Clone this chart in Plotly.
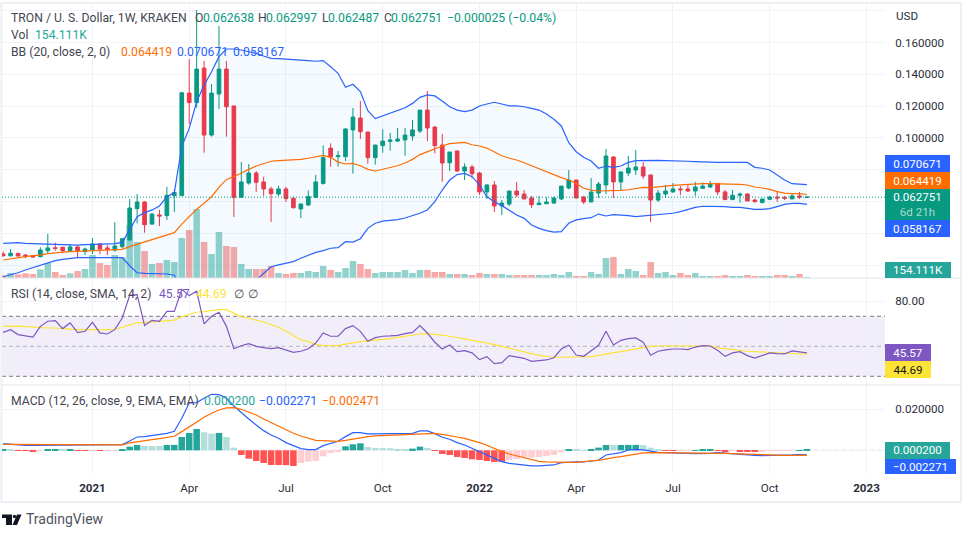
import pandas as pd
import plotly.graph_objects as go

# ---- values (prices in thousandths of a USD) ----
open_m = [27.0,25.9,27.4,26.3,25.9,25.3,29.1,30.9,31.2,29.1,31.4,28.5,29.5,33.3,30.8,29.5,31.6,35.8,55.5,59.7,45.8,51.5,51.1,63.7,
63.7,128.2,122.2,143.9,101.8,127.6,143.3,120.1,62.6,71.6,77.9,72.3,67.9,64.7,67.9,62.0,55.3,57.8,62.6,
71.4,93.6,88.2,88.2,105.0,112.5,103.7,87.6,95.1,97.8,98.0,98.7,101.2,104.3,117.5,106.8,95.5,84.4,91.8,79.2,81.7,77.9,66.0,70.4,57.2,58.4,66.6,64.7,62.2,58.0,58.6,59.0,61.6,68.5,73.5,62.8,59.7,65.3,70.4,88.0,72.3,77.9,79.8,
81.7,76.7,60.9,64.7,66.0,67.9,67.9,66.6,68.3,69.1,71.4,66.0,61.2,63.9,64.7,60.9,59.3,61.4,62.8,62.6,61.6,63.5,62.638]
high_m = [28.5,30.1,27.6,27.0,26.3,31.2,39.6,34.1,31.6,33.3,32.0,31.0,37.0,33.7,32.6,46.9,37.0,61.6,64.7,60.1,52.6,54.7,69.3,67.7,
128.9,149.6,180.4,148.4,133.9,170.4,148.4,120.1,84.8,83.6,79.2,75.6,69.3,70.0,69.3,63.0,58.8,67.0,76.7,
95.3,96.6,91.8,106.2,118.8,123.2,103.7,95.7,105.4,103.1,106.2,106.2,111.3,117.5,129.5,107.5,102.5,91.1,91.8,84.0,83.0,78.6,71.0,72.9,60.9,66.6,72.3,67.2,63.5,63.5,62.6,63.0,69.7,79.8,73.5,63.5,74.8,72.3,93.0,88.6,78.6,88.6,92.4,
84.8,76.7,67.2,70.4,71.6,69.7,71.0,72.3,72.1,72.9,71.4,67.2,67.2,65.6,65.3,61.8,61.6,63.5,66.4,63.5,65.3,66.0,62.997]
low_m = [25.3,25.3,25.5,24.3,24.7,24.9,27.4,29.1,27.4,28.5,24.3,26.3,27.0,27.0,26.3,28.5,30.5,35.4,46.3,40.4,45.2,44.6,48.4,53.4,
63.5,108.7,119.0,90.7,100.8,118.2,100.8,50.3,62.6,70.6,66.0,63.5,47.1,63.5,59.7,55.5,49.6,57.2,62.2,
70.6,81.9,81.9,85.5,77.5,99.3,83.8,83.2,90.7,92.0,97.4,88.8,98.3,103.1,98.0,90.3,72.5,79.2,78.6,73.5,74.6,64.1,61.6,53.4,51.5,57.2,62.8,61.6,55.9,57.8,58.4,58.8,60.9,67.7,62.0,58.4,59.7,62.2,64.7,62.2,66.8,76.0,76.7,
74.2,47.1,59.7,62.2,65.6,64.1,66.0,63.5,67.9,68.5,64.1,60.9,60.9,59.3,60.3,59.3,59.0,60.9,59.7,60.9,61.6,61.6,62.487]
close_m = [25.9,27.4,25.7,25.3,25.1,29.5,30.8,30.5,29.1,31.4,29.1,30.1,33.3,30.1,29.9,32.0,36.6,55.9,59.7,45.4,52.1,50.9,63.9,65.6,
128.4,122.2,143.3,101.8,128.2,143.3,119.6,62.6,72.3,77.9,72.1,67.9,64.9,67.9,61.8,56.1,58.4,63.2,72.3,
87.6,88.0,88.8,105.6,113.1,103.9,87.6,95.5,98.0,98.7,99.3,101.8,105.0,117.5,106.2,95.1,84.2,91.1,79.2,81.7,77.5,66.0,70.4,57.2,59.0,66.6,64.1,61.6,58.0,59.0,59.7,62.2,69.7,73.5,62.2,59.7,66.0,71.0,88.6,72.3,78.6,81.0,81.7,
76.0,60.9,65.3,66.6,67.9,67.4,66.6,69.1,69.7,71.0,66.0,61.2,63.9,64.7,60.3,59.9,61.6,62.8,62.2,62.0,63.5,62.8,62.751]
volume_k = [408,770,565,720,617,1336,2313,925,463,720,1079,1388,3547,2313,2005,3547,3238,8173,5551,4163,2159,2313,2776,2467,
6168,7402,10640,5551,3701,7093,4934,4780,2159,1388,1388,1388,1850,771,617,771,771,1079,925,
1850,1234,925,1542,2621,2159,1388,771,925,925,925,1234,771,1234,1234,925,925,617,617,617,463,771,617,617,617,463,463,463,463,463,463,617,463,925,308,308,925,617,3084,3238,617,1388,1079,
463,2467,771,925,463,771,463,771,308,308,308,463,308,308,463,308,308,308,463,463,308,617,154.111]
bb_upper_m = [33.7,34.1,34.1,33.7,33.5,33.3,33.1,33.1,32.9,32.6,32.6,32.9,33.1,33.3,33.3,33.5,34.3,42.1,50.5,53.0,54.7,57.2,63.0,65.6,94.5,
106.0,122.8,133.3,141.6,151.1,155.9,155.9,155.3,154.2,153.2,151.5,150.0,149.8,149.6,149.4,149.0,148.6,148.2,
148.6,144.8,140.6,131.8,133.7,129.1,117.1,112.1,113.8,115.4,116.9,119.0,121.7,125.5,127.0,126.4,123.2,119.6,117.5,116.5,117.5,120.1,121.3,122.4,121.3,120.1,120.1,119.6,118.6,117.5,115.0,111.7,107.5,97.0,91.3,87.8,85.5,80.9,82.3,81.5,82.3,84.6,85.7,
85.9,85.9,85.9,85.7,85.7,85.5,85.3,85.1,84.8,84.6,84.6,84.6,84.6,84.6,84.6,81.5,80.9,79.8,76.7,73.5,71.2,71.0,70.671]
bb_basis_m = [23.2,24.0,24.7,25.3,25.9,26.3,27.2,27.8,28.2,28.5,28.7,28.9,29.1,29.1,29.1,29.3,29.9,31.6,33.1,34.3,35.8,37.2,38.9,40.4,45.8,50.5,55.1,58.9,63.0,68.9,73.9,75.6,78.1,80.2,82.3,84.0,85.3,85.7,85.9,86.1,86.5,87.2,88.2,
89.0,87.8,84.8,83.6,84.0,82.5,80.2,79.2,80.4,81.5,82.5,84.2,86.5,89.5,91.3,93.4,94.9,96.4,97.0,97.2,95.7,94.9,93.6,91.3,88.8,87.2,86.1,84.4,82.5,80.4,78.6,76.9,75.0,73.5,71.4,68.3,67.2,66.6,66.6,66.6,67.0,67.4,68.3,
68.9,68.7,69.3,69.7,70.2,70.4,70.8,71.0,71.2,71.2,71.2,71.0,71.0,70.8,70.4,69.1,68.5,67.6,66.2,65.3,64.9,64.9,64.419]
bb_lower_m = [12.7,13.8,15.2,16.9,18.4,19.6,21.5,22.8,23.6,24.3,24.7,24.7,24.7,24.7,24.7,24.7,24.7,19.6,15.2,14.8,14.8,14.4,14.4,13.6,
2.2,-6.1,-12.4,-16.6,-17.7,-14.5,-8.3,-2.0,2.2,6.4,11.1,15.2,19.0,20.1,21.1,22.2,24.3,26.3,28.0,
29.1,30.6,31.0,34.7,34.5,36.6,43.1,46.3,47.7,48.2,48.6,49.6,51.1,52.6,54.7,59.9,67.2,73.5,76.9,77.7,75.6,70.4,63.0,59.9,57.4,54.7,51.5,49.4,45.2,43.1,41.7,40.8,41.0,46.3,48.4,49.2,49.8,52.1,50.9,51.7,51.5,51.1,50.5,
50.9,51.5,51.7,51.9,52.6,53.6,55.1,56.3,57.0,57.0,56.8,56.8,56.3,56.3,55.7,55.1,55.1,55.5,56.8,58.2,58.8,58.8,58.167]
rsi = [59.3,61.1,57.8,57.1,56.2,63.3,66.7,67.1,61.8,65.6,59.1,60.0,66.0,58.9,58.2,61.1,68.9,84.0,84.4,63.8,67.3,66.7,73.3,73.3,87.8,83.8,86.7,64.9,70.0,72.7,63.3,48.4,50.4,51.8,50.0,49.1,48.4,49.1,47.3,46.0,46.7,48.4,52.2,
58.9,56.7,56.7,61.8,63.8,60.0,53.3,55.8,56.7,56.9,57.3,58.4,59.3,63.8,58.9,52.7,48.2,50.9,46.4,47.1,45.6,41.1,43.1,38.4,39.1,43.8,42.9,42.0,40.0,40.4,40.9,42.4,48.2,50.7,44.2,43.3,47.3,50.7,60.0,50.9,54.0,55.1,55.6,
52.7,44.0,46.7,47.6,48.2,48.2,47.8,49.5,50.4,50.2,47.3,43.3,45.6,46.4,43.8,42.2,43.8,45.6,45.1,44.9,46.9,46.4,45.57]
rsi_ma = [63.3,63.5,63.5,63.1,62.7,62.2,62.2,62.2,61.8,61.3,61.1,61.1,61.3,61.1,61.1,61.3,62.7,64.4,65.8,65.8,66.2,66.2,66.9,67.5,69.6,71.3,72.7,73.1,74.0,74.4,74.4,72.2,69.6,68.7,67.5,66.2,64.4,62.7,60.0,57.1,54.4,53.1,51.3,
50.4,50.2,50.4,51.5,52.4,53.1,53.6,54.0,54.4,55.1,56.0,56.9,57.8,58.2,58.4,58.2,57.5,56.7,55.6,54.9,54.0,53.3,52.2,51.1,49.8,48.7,47.5,46.4,45.1,44.0,43.1,42.7,42.7,42.7,42.7,42.9,43.1,44.0,45.1,45.8,46.4,47.3,48.4,
49.5,50.0,50.2,50.2,50.2,50.4,50.7,50.7,50.7,50.2,48.9,48.2,47.8,47.3,46.7,46.4,46.0,45.8,45.6,45.4,45.2,45.0,44.69]
macd_m = [3.25,2.93,2.60,2.44,2.44,2.44,2.60,2.60,2.60,2.60,2.60,2.60,2.60,2.60,2.60,2.60,2.76,4.55,6.50,6.67,7.15,7.48,8.29,9.27,15.61,23.09,23.25,25.37,27.32,27.15,25.37,21.63,18.37,15.28,12.36,9.59,7.48,5.85,3.74,2.11,0.81,0.33,0.33,
2.28,3.41,4.39,6.67,8.62,8.62,7.97,7.97,7.97,7.97,7.97,8.13,8.29,9.43,9.43,8.13,6.34,5.37,3.74,2.60,0.98,-0.98,-2.28,-3.90,-5.53,-6.34,-6.83,-7.15,-7.64,-7.64,-7.48,-7.15,-6.02,-5.69,-5.69,-5.69,-5.37,-4.72,-2.28,-1.79,-1.14,0.16,0.49,
0.16,-0.49,-0.98,-1.14,-1.14,-1.30,-1.46,-1.63,-1.63,-1.46,-1.14,-1.46,-1.79,-1.95,-2.28,-2.44,-2.60,-2.60,-2.60,-2.60,-2.28,-2.11,-2.271]
signal_m = [2.93,2.93,2.76,2.76,2.76,2.60,2.60,2.60,2.60,2.60,2.60,2.60,2.60,2.60,2.60,2.60,2.60,3.58,4.23,4.72,5.20,5.69,6.18,6.83,9.11,11.54,13.98,16.10,18.05,19.67,20.65,20.81,20.00,18.70,17.24,15.28,13.50,11.87,9.92,8.29,6.99,5.85,4.88,
4.72,4.39,4.39,4.88,5.53,6.18,6.67,6.99,7.15,7.32,7.48,7.80,7.97,8.29,8.46,8.29,7.80,7.32,6.50,5.85,4.88,3.74,2.44,0.81,-0.65,-1.79,-2.76,-3.74,-4.72,-5.37,-5.69,-5.85,-5.85,-5.85,-5.85,-5.69,-5.20,-4.88,-4.07,-3.58,-3.09,-2.44,-1.79,
-1.30,-1.14,-1.14,-1.14,-1.30,-1.30,-1.30,-1.46,-1.46,-1.46,-1.30,-1.46,-1.63,-1.79,-1.95,-2.11,-2.28,-2.44,-2.44,-2.44,-2.44,-2.44,-2.471]
hist_m = [.16,.16,-.16,-.33,-.49,-.16,.16,.33,.16,.33,-.16,-.33,-.16,-.33,-.16,-.08,.16,
1.79,2.60,2.11,2.11,2.11,2.60,2.65,6.50,8.46,10.41,8.78,8.13,8.46,6.50,1.30,-2.28,-4.07,-5.20,-6.18,-7.15,-7.20,-7.25,-7.64,-6.18,-5.53,-5.20,
-2.93,-1.30,-.65,1.95,2.93,3.41,1.63,1.14,1.10,1.05,.65,.60,.81,1.79,1.14,-.33,-1.79,-2.28,-3.25,-3.74,-4.39,-4.72,-5.20,-5.69,-5.75,-4.72,-4.23,-3.58,-3.50,-3.25,-2.76,-2.28,-.98,.33,.16,.10,.65,1.30,2.60,2.55,2.60,2.62,2.65,
2.60,1.30,.49,-.16,-.33,-.24,-.16,.08,.16,.24,-.08,-.49,-.16,-.49,-.57,-.65,-.41,-.33,-.24,-.16,-.08,.08,.20]
first_week = "2020-10-12"
month_ticks = ["2021-01-04","2021-04-05","2021-07-05","2021-10-04","2022-01-03","2022-04-04","2022-07-04","2022-10-03","2023-01-02"]
month_labels = ["<b>2021</b>","Apr","Jul","Oct","<b>2022</b>","Apr","Jul","Oct","<b>2023</b>"]
price_ticks = [0.02,0.04,0.06,0.08,0.10,0.12,0.14,0.16,0.18]
price_labels = ["","","","","0.100000","0.120000","0.140000","0.160000",""]

for arr in (open_m,high_m,low_m,close_m,volume_k,bb_upper_m,bb_basis_m,bb_lower_m,rsi,rsi_ma,macd_m,signal_m,hist_m):
    assert len(arr) == 109, len(arr)

# ---- frame geometry in window pixels ----
W, H = 971, 537
PL, PR, PT, PB = 2, 885, 4, 474
FONT = "Roboto"
TXT = "#434651"
UP, DOWN = "#089981", "#F23645"
BLUE, ORANGE, PURPLE, YELLOW, TEAL = "#2962FF", "#FF6D00", "#7E57C2", "#FDE335", "#26A69A"

def fx(px): return (px - PL) / (PR - PL)
def fy(py): return (PB - py) / (PB - PT)

weeks = pd.date_range(first_week, periods=len(close_m), freq="7D")
milli = lambda a: [v / 1000 for v in a]
o, h, l, c = milli(open_m), milli(high_m), milli(low_m), milli(close_m)
BARW = 7*0.88*86400000

fig = go.Figure()
fig.add_bar(x=weeks, y=volume_k, yaxis="y", width=BARW,
            marker=dict(color=["rgba(38,166,154,0.5)" if b >= a else "rgba(239,83,80,0.5)"
                               for a, b in zip(open_m, close_m)], line_width=0), hoverinfo="skip")
line = lambda col: dict(color=col, width=1.2)
fig.add_scatter(x=weeks, y=milli(bb_upper_m), yaxis="y2", mode="lines", line=line(BLUE), hoverinfo="skip")
fig.add_scatter(x=weeks, y=milli(bb_lower_m), yaxis="y2", mode="lines", line=line(BLUE), hoverinfo="skip",
                fill="tonexty", fillcolor="rgba(33,150,243,0.05)")
fig.add_scatter(x=weeks, y=milli(bb_basis_m), yaxis="y2", mode="lines", line=line(ORANGE), hoverinfo="skip")
fig.add_candlestick(x=weeks, open=o, high=h, low=l, close=c, yaxis="y2", whiskerwidth=0,
                    increasing=dict(line=dict(color=UP, width=1), fillcolor=UP),
                    decreasing=dict(line=dict(color=DOWN, width=1), fillcolor=DOWN), hoverinfo="skip")
fig.add_scatter(x=weeks, y=rsi_ma, yaxis="y3", mode="lines", line=line(YELLOW), hoverinfo="skip")
fig.add_scatter(x=weeks, y=rsi, yaxis="y3", mode="lines", line=line(PURPLE), hoverinfo="skip")

def hist_col(i):
    v, p = hist_m[i], hist_m[i-1] if i else 0
    if v >= 0: return "#26A69A" if v > p else "#B2DFDB"
    return "#FFCDD2" if v > p else "#FF5252"
fig.add_bar(x=weeks, y=milli(hist_m), yaxis="y4", width=BARW,
            marker=dict(color=[hist_col(i) for i in range(len(hist_m))], line_width=0), hoverinfo="skip")
fig.add_scatter(x=weeks, y=milli(macd_m), yaxis="y4", mode="lines", line=line(BLUE), hoverinfo="skip")
fig.add_scatter(x=weeks, y=milli(signal_m), yaxis="y4", mode="lines", line=line(ORANGE), hoverinfo="skip")

GRID = "#F0F3FA"
tf = dict(family=FONT, size=11.6, color="#2A2E39")
common_y = dict(side="right", anchor="x", gridcolor=GRID, gridwidth=1, zeroline=False, showline=False,
                ticks="outside", ticklen=7, tickcolor="rgba(0,0,0,0)", tickfont=tf)

shapes = []
# RSI band and levels
shapes.append(dict(type="rect", xref="x domain", yref="y3", x0=0, x1=1, y0=30, y1=70,
                   fillcolor="rgba(126,87,194,0.1)", line_width=0, layer="below"))
for lvl, col in ((70, "#787B86"), (30, "#787B86"), (50, "#B2B5BE")):
    shapes.append(dict(type="line", xref="x domain", yref="y3", x0=0, x1=1, y0=lvl, y1=lvl,
                       line=dict(color=col, width=1, dash="4px,3px"), layer="below"))
shapes.append(dict(type="line", xref="x domain", yref="y4", x0=0, x1=1, y0=0, y1=0,
                   line=dict(color="#B2B5BE", width=1, dash="4px,3px"), layer="below"))
# last price
shapes.append(dict(type="line", xref="x domain", yref="y2", x0=0, x1=1, y0=c[-1], y1=c[-1],
                   line=dict(color=UP, width=1, dash="1px,2px")))
# pane separators and outer frame
FRAME = "#E0E3EB"
for py in (278, 385):
    shapes.append(dict(type="line", xref="paper", yref="paper", x0=fx(2), x1=fx(961), y0=fy(py), y1=fy(py),
                       line=dict(color=FRAME, width=1)))
shapes.append(dict(type="rect", xref="paper", yref="paper", x0=fx(1.5), x1=fx(961), y0=fy(502), y1=fy(3),
                   line=dict(color="#EDEFF5", width=2), layer="below"))
# TradingView mark
def logo_path():
    a = [(2,514.5),(12,514.5),(12,525),(6,525),(6,518),(2,518)]
    b = [(21.5,514.5),(17,525),(12.5,525),(17,514.5)]
    pts = lambda s: "M " + " L ".join(f"{fx(x):.5f},{fy(y):.5f}" for x, y in s) + " Z"
    return pts(a), pts(b)
for p in logo_path():
    shapes.append(dict(type="path", xref="paper", yref="paper", path=p, fillcolor="#131722", line_width=0))
shapes.append(dict(type="circle", xref="paper", yref="paper", x0=fx(12.8), x1=fx(16.2), y0=fy(518.2), y1=fy(514.8),
                   fillcolor="#131722", line_width=0))

anns = []
def text(px, py, s, color=TXT, size=12.2):
    anns.append(dict(xref="paper", yref="paper", x=fx(px), y=fy(py), text=s, showarrow=False, xanchor="left",
                     yanchor="middle", font=dict(family=FONT, size=size, color=color), borderpad=0))
GREEN = "#089981"
text(10, 17.5, "TRON / U. S. Dollar, 1W, KRAKEN")
for x, s, col in ((194,"O",TXT),(201.7,"0.062638",GREEN),(257,"H",TXT),(265,"0.062997",GREEN),(320.5,"L",TXT),(327,"0.062487",GREEN),
                  (382.5,"C",TXT),(390,"0.062751",GREEN),(446,"−0.000025 (−0.04%)",GREEN)):
    text(x, 17.5, s, col)
text(10, 35, "Vol"); text(34, 35, "154.111K", TEAL)
text(10, 52, "BB (20, close, 2, 0)"); text(120, 52, "0.064419", ORANGE); text(176, 52, "0.070671", BLUE); text(232, 52, "0.058167", BLUE)
text(10, 294, "RSI (14, close, SMA, 14, 2)"); text(158, 294, "45.57", PURPLE); text(195, 294, "44.69", YELLOW)
text(233, 294, "∅"); text(247, 294, "∅")
text(10, 400.7, "MACD (12, 26, close, 9, EMA, EMA)"); text(203, 400.7, "0.000200", TEAL); text(258, 400.7, "−0.002271", BLUE); text(321, 400.7, "−0.002471", ORANGE)
text(895, 16, "USD", "#2A2E39", 11.6)
text(25, 519, "TradingView", "#50535E", 14)

def tag(y0, y1, x1, s, bg, fg="#FFFFFF"):
    anns.append(dict(xref="paper", yref="paper", x=fx(885), y=fy((y0+y1)/2), xanchor="left", yanchor="middle",
                     width=x1-885, height=y1-y0, text=s, showarrow=False, bgcolor=bg, align="center", valign="middle",
                     borderpad=0, borderwidth=0, font=dict(family=FONT, size=11.6, color=fg)))
tag(155, 172, 950, "0.070671", BLUE)
tag(172, 189, 950, "0.064419", ORANGE)
tag(189, 220, 950, "0.062751<br><span style='color:#A7DCD0'>6d 21h</span>", GREEN)
tag(220, 237, 950, "0.058167", BLUE)
tag(262.3, 278, 951, "154.111K", TEAL)
tag(344, 361, 931, "45.57", PURPLE)
tag(361, 378, 931, "44.69", YELLOW, "#131722")
tag(442.3, 459, 950, "0.000200", TEAL)
tag(459, 474, 956, "−0.002271", BLUE)

fig.update_layout(
    width=W, height=H, margin=dict(l=PL, r=W-PR, t=PT, b=H-PB, pad=0),
    paper_bgcolor="#FFFFFF", plot_bgcolor="#FFFFFF", showlegend=False, barmode="overlay", hovermode=False,
    xaxis=dict(type="date", range=["2020-10-10 22:00", "2023-01-19 10:00"], anchor="y4",
               tickvals=month_ticks, ticktext=month_labels, tickangle=0, gridcolor=GRID, gridwidth=1, showline=False, zeroline=False,
               ticks="outside", ticklen=3, tickcolor="rgba(0,0,0,0)", tickfont=tf, rangeslider=dict(visible=False)),
    yaxis=dict(domain=[fy(278), 1], range=[0, 42250], side="right", anchor="x", visible=False, showgrid=False),
    yaxis2=dict(common_y, domain=[fy(278), 1], range=[0.01189, 0.18421], overlaying="y",
                tickvals=price_ticks, ticktext=price_labels),
    yaxis3=dict(common_y, domain=[fy(385), fy(278.5)], range=[24.2, 95.2],
                tickvals=[40, 80], ticktext=["", "80.00"]),
    yaxis4=dict(common_y, domain=[0, fy(385)], range=[-0.01156, 0.03185],
                tickvals=[0, 0.02], ticktext=["", "0.020000"]),
    shapes=shapes, annotations=anns,
)
fig.write_html("out.html", config={"displayModeBar": False},
               post_script="document.body.style.margin='0';")
